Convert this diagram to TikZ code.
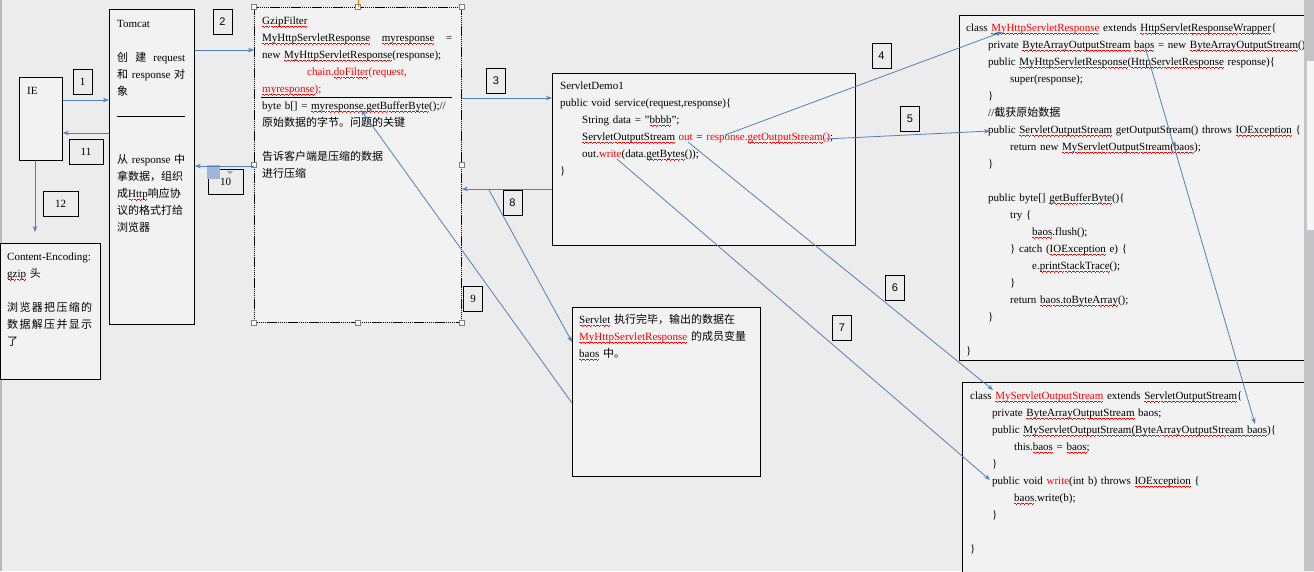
\documentclass[tikz,border=0pt]{standalone}
\usepackage{fontspec}
\setmainfont{Liberation Serif}
\setsansfont{Liberation Sans}
\newfontfamily\cjk{Noto Sans CJK SC}
\usetikzlibrary{arrows.meta}

\definecolor{bgcol}{RGB}{236,236,236}
\definecolor{boxfill}{RGB}{242,242,242}
\definecolor{flowcol}{RGB}{79,129,189}
\definecolor{sbcol}{RGB}{196,196,200}
\definecolor{iconblue}{RGB}{160,182,216}

\newcommand\zh[1]{{\cjk #1}}
% red wavy underline
\newcommand\wv{\rule[-2.2pt]{1pt}{0.7pt}\rule[-2.9pt]{1pt}{0.7pt}\rule[-3.6pt]{1pt}{0.7pt}\rule[-2.9pt]{1pt}{0.7pt}}
\newsavebox\sqbox
\newcommand\sq[1]{\leavevmode\sbox\sqbox{#1}\rlap{\textcolor{red}{\hbox to\wd\sqbox{\xleaders\hbox{\wv}\hfill}}}\usebox\sqbox}
\newcommand\indt{\hspace*{22pt}}
\newcommand\fs{\fontsize{11}{17}\selectfont}

\tikzset{
  box/.style={draw, fill=boxfill, line width=0.8pt, inner sep=0pt, anchor=north west},
  txt/.style={inner sep=0pt, anchor=base west, align=left, font=\fs},
  num/.style={draw, line width=0.8pt, minimum width=19, minimum height=25, inner sep=0pt, font=\fs},
  numsf/.style={num, font=\sffamily\fs},
  handle/.style={draw=gray, fill=white, line width=0.6pt, minimum size=5, inner sep=0pt},
  flow/.style={draw=flowcol, line width=0.8pt, -{Stealth[length=6pt,width=4.5pt]}},
}

\begin{document}
\begin{tikzpicture}[x=1pt, y=-1pt]
  \useasboundingbox (0,0) rectangle (1314,571);
  \fill[bgcol] (0,0) rectangle (1314,571);
  \fill[gray!55] (0,0) rectangle (1.5,571);

  % boxes
  \node[box, minimum width=43, minimum height=83] (ie) at (19,77) {};
  \node[box, minimum width=85, minimum height=315] (tomcat) at (109,9) {};
  \node[box, minimum width=100, minimum height=136] (encoding) at (0,243) {};
  \node[box, minimum width=207, minimum height=315, dash pattern=on 1.5pt off 0.6pt] (gzip) at (254,7) {};
  \node[box, minimum width=303, minimum height=172] (demo) at (552,73) {};
  \node[box, minimum width=188, minimum height=169] (done) at (572,307) {};
  \node[box, minimum width=360, minimum height=345] (wrapper) at (959,15) {};
  \node[box, minimum width=360, minimum height=200] (stream) at (962,382) {};

  % texts
  \node[txt, text width=30] (ietext) at (27,94) {IE};
  \node[txt, text width=68] (tomcattext) at (117,27) {Tomcat\\[17pt]
    \zh{创}\hfill\zh{建}\hfill request\\
    \zh{和}\hfill response\hfill\zh{对}\\
    \zh{象}\\[51pt]
    \zh{从}\hfill response\hfill\zh{中}\\
    \zh{拿数据，组织}\\
    \zh{成}\sq{Http}\zh{响应协}\\
    \zh{议的格式打给}\\
    \zh{浏览器}};
  \draw[line width=0.8pt] (117,116) -- (185,116);

  \node[txt, text width=85] (enctext) at (7,260) {Content-Encoding:\\
    \sq{gzip} \zh{头}\\[17pt]
    \zh{浏\hfill 览\hfill 器\hfill 把\hfill 压\hfill 缩\hfill 的}\\
    \zh{数\hfill 据\hfill 解\hfill 压\hfill 并\hfill 显\hfill 示}\\
    \zh{了}};

  \node[txt, text width=190] (gziptext) at (262,24) {\sq{GzipFilter}\\
    \sq{MyHttpServletResponse}\hfill\sq{myresponse}\hfill =\\
    new \sq{MyHttpServletResponse}(response);\\
    \hspace*{45pt}\textcolor{red}{chain.\sq{doFilter}(request,}\\
    \textcolor{red}{\sq{myresponse});}\\
    byte b[] = \sq{myresponse.getBufferByte}();//\\
    \zh{原始数据的字节。问题的关键}\\[17pt]
    \zh{告诉客户端是压缩的数据}\\
    \zh{进行压缩}};
  \draw[line width=0.8pt] (261,97) -- (452,97);

  \node[txt, text width=290] (demotext) at (560,89) {ServletDemo1\\
    public void service(request,response)\{\\
    \indt String data = "\sq{bbbb}";\\
    \indt\sq{ServletOutputStream} \textcolor{red}{out} = \textcolor{red}{response.\sq{getOutputStream}()};\\
    \indt out.\textcolor{red}{write}(data.\sq{getBytes}());\\
    \}};

  \node[txt, text width=180] (donetext) at (579,323) {\sq{Servlet} \zh{执行完毕，输出的数据在}\\
    \textcolor{red}{\sq{MyHttpServletResponse}} \zh{的成员变量}\\
    \sq{baos} \zh{中。}};

  \node[txt, text width=420] (wrappertext) at (966,31) {class \textcolor{red}{\sq{MyHttpServletResponse}} extends \sq{HttpServletResponseWrapper}\{\\
    \indt private \sq{ByteArrayOutputStream} \sq{baos} = new \sq{ByteArrayOutputStream}();\\
    \indt public \sq{MyHttpServletResponse}(\sq{HttpServletResponse} response)\{\\
    \indt\indt super(response);\\
    \indt\}\\
    \indt //\zh{截获原始数据}\\
    \indt public \sq{ServletOutputStream} getOutputStream() throws \sq{IOException} \{\\
    \indt\indt return new \sq{MyServletOutputStream(baos});\\
    \indt\}\\[17pt]
    \indt public byte[] \sq{getBufferByte}()\{\\
    \indt\indt try \{\\
    \indt\indt\indt \sq{baos}.flush();\\
    \indt\indt\} catch (\sq{IOException} e) \{\\
    \indt\indt\indt e.\sq{printStackTrace}();\\
    \indt\indt\}\\
    \indt\indt return \sq{baos.toByteArray}();\\
    \indt\}\\[17pt]
    \}};

  \node[txt, text width=420] (streamtext) at (970,399) {class \textcolor{red}{\sq{MyServletOutputStream}} extends \sq{ServletOutputStream}\{\\
    \indt private \sq{ByteArrayOutputStream} baos;\\
    \indt public \sq{MyServletOutputStream(ByteArrayOutputStream baos})\{\\
    \indt\indt this.\sq{baos} = \sq{baos};\\
    \indt\}\\
    \indt public void \textcolor{red}{write}(int b) throws \sq{IOException} \{\\
    \indt\indt \sq{baos}.write(b);\\
    \indt\}\\[17pt]
    \}};

  % selection handles of the filter box
  \foreach \a/\n in {north west/1, north/2, north east/3, west/4, east/5, south west/6, south/7, south east/8}
    \node[handle] (h\n) at (gzip.\a) {};
  \draw[orange, line width=0.6pt] (gzip.north) -- ++(0,-7);

  % step numbers
  \node[num] (n1) at (82.5,81.5) {1};
  \node[numsf] (n2) at (222.5,21.5) {2};
  \node[numsf] (n3) at (496,80.5) {3};
  \node[numsf] (n4) at (881.5,55.5) {4};
  \node[numsf] (n5) at (910,119) {5};
  \node[numsf] (n6) at (895,288) {6};
  \node[numsf] (n7) at (842,328) {7};
  \node[numsf] (n8) at (512.5,203) {8};
  \node[num] (n9) at (473,299) {9};
  \node[num, minimum width=35] (n10) at (225.5,181.5) {10};
  \node[num, minimum width=34] (n11) at (86,151.5) {11};
  \node[num, minimum width=35] (n12) at (60.5,204) {12};
  \fill[iconblue] (207,165) rectangle (220,179);
  \fill[gray!70] (227,171) -- (233,171) -- (230,174) -- cycle;

  % connectors
  \coordinate (encin) at (35,232);
  \coordinate (ret8) at (489,190);
  \coordinate (getbuf) at (361,110);
  \coordinate (resp) at (725,135);
  \coordinate (cls) at (1002,32);
  \coordinate (getos) at (825,139);
  \coordinate (pubos) at (990,131);
  \coordinate (out) at (688,142);
  \coordinate (mystream) at (993,390);
  \coordinate (write) at (617,159);
  \coordinate (pubwrite) at (990,480);
  \coordinate (baosA) at (1145,47);
  \coordinate (baosB) at (1255,424);

  \draw[flow] (ie.east |- 0,100) -- (tomcat.west |- 0,100);
  \draw[flow] (tomcat.west |- 0,133) -- (ie.east |- 0,133);
  \draw[flow] (ie.south -| encin) -- (encin);
  \draw[flow] (tomcat.east |- 0,50) -- (gzip.west |- 0,50);
  \draw[flow] (gzip.west |- 0,166) -- (tomcat.east |- 0,166);
  \draw[flow] (gzip.east |- 0,98) -- (demo.west |- 0,98);
  \draw[flow] (demo.west |- 0,189) -- (gzip.east |- 0,189);
  \draw[flow] (ret8) -- (done.west |- 0,342);
  \draw[flow] (done.west |- 0,403) -- (getbuf);
  \draw[flow] (resp) -- (cls);
  \draw[flow] (getos) -- (pubos);
  \draw[flow] (out) -- (mystream);
  \draw[flow] (write) -- (pubwrite);
  \draw[flow] (baosA) -- (baosB);

  % scroll bar
  \fill[sbcol] (1304,0) rectangle (1314,571);
  \fill[gray!8, draw=gray!45] (1306,60) rectangle (1314,230);
\end{tikzpicture}
\end{document}
